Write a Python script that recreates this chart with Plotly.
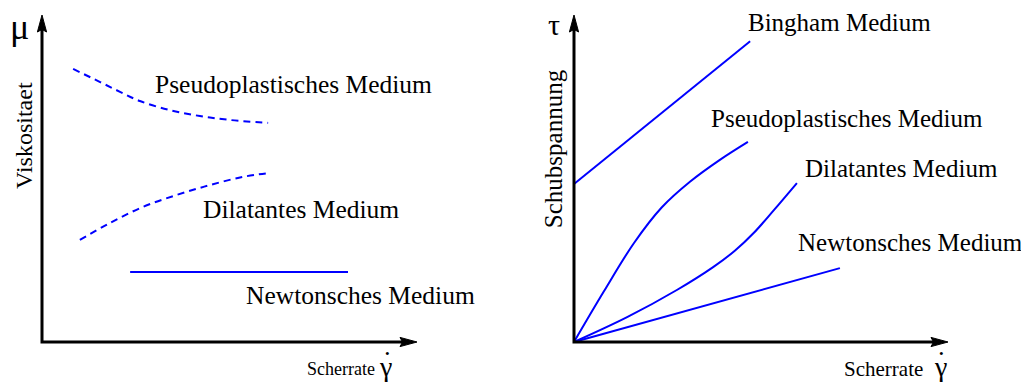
import plotly.graph_objects as go

# ---------------- data (schematic units, 0..10 on each axis) ----------------
# Left panel: viscosity vs shear rate
left_pseudo_x = [0.83, 1.55, 2.08, 2.61, 3.41, 4.21, 5.01, 6.03]
left_pseudo_y = [8.35, 7.95, 7.65, 7.37, 7.09, 6.91, 6.79, 6.70]
left_dilat_x = [1.01, 1.81, 2.69, 3.60, 4.48, 5.36, 6.08]
left_dilat_y = [3.12, 3.64, 4.13, 4.50, 4.80, 5.05, 5.17]
left_newton_x = [2.35, 8.16]
left_newton_y = [2.14, 2.14]

# Right panel: shear stress vs shear rate
right_bingham_x = [0.0, 4.71]
right_bingham_y = [4.83, 9.20]
right_pseudo_x = [0.0, 0.8, 1.6, 2.35, 3.1, 3.9, 4.65]
right_pseudo_y = [0.0, 1.55, 3.02, 4.12, 4.90, 5.57, 6.12]
right_dilat_x = [0.0, 1.42, 2.75, 3.72, 4.30, 4.81, 5.35, 5.96]
right_dilat_y = [0.0, 0.76, 1.59, 2.29, 2.79, 3.34, 4.04, 4.86]
right_newton_x = [0.0, 7.11]
right_newton_y = [0.0, 2.26]

left_labels = ["Pseudoplastisches Medium", "Dilatantes Medium", "Newtonsches Medium"]
left_label_x = [2.96, 4.24, 5.39]
left_label_y = [7.89, 4.04, 1.41]
right_labels = ["Bingham Medium", "Pseudoplastisches Medium", "Dilatantes Medium", "Newtonsches Medium"]
right_label_x = [4.60, 3.61, 6.12, 5.94]
right_label_y = [9.76, 6.85, 5.32, 3.03]

# ---------------- layout helpers ----------------
W, H = 1029, 382
OFF = 8  # page body margin offset
FONT = "Liberation Serif, Times New Roman, serif"
BLUE = "#0000ff"

# pixel mapping of the two coordinate systems (origin px, px per unit)
L_ORIG = (42 - OFF, 342 - OFF); L_SX, L_SY = 37.5, 32.7
R_ORIG = (574 - OFF, 342 - OFF); R_SX, R_SY = 37.4, 32.7


def xr(orig, sx, p0, p1):
    return [(p0 - orig[0]) / sx, (p1 - orig[0]) / sx]


def yr(orig, sy):
    return [(orig[1] - H) / sy, orig[1] / sy]


fig = go.Figure()

line_solid = dict(color=BLUE, width=2)
line_dash = dict(color=BLUE, width=2, dash="7px,5px")

fig.add_trace(go.Scatter(x=left_pseudo_x, y=left_pseudo_y, mode="lines", line_shape="spline",
                         line=line_dash, xaxis="x", yaxis="y"))
fig.add_trace(go.Scatter(x=left_dilat_x, y=left_dilat_y, mode="lines", line_shape="spline",
                         line=line_dash, xaxis="x", yaxis="y"))
fig.add_trace(go.Scatter(x=left_newton_x, y=left_newton_y, mode="lines",
                         line=line_solid, xaxis="x", yaxis="y"))

fig.add_trace(go.Scatter(x=right_bingham_x, y=right_bingham_y, mode="lines",
                         line=line_solid, xaxis="x2", yaxis="y2"))
fig.add_trace(go.Scatter(x=right_pseudo_x, y=right_pseudo_y, mode="lines",
                         line=dict(color=BLUE, width=2, shape="spline", smoothing=1.0),
                         xaxis="x2", yaxis="y2"))
fig.add_trace(go.Scatter(x=right_dilat_x, y=right_dilat_y, mode="lines",
                         line=dict(color=BLUE, width=2, shape="spline", smoothing=1.0),
                         xaxis="x2", yaxis="y2"))
fig.add_trace(go.Scatter(x=right_newton_x, y=right_newton_y, mode="lines",
                         line=line_solid, xaxis="x2", yaxis="y2"))

shapes = []
annotations = []


def axes_arrows(xref, yref, sx, sy):
    # axis lines (L-shape) ending at arrow bases, then arrowheads at (0,10) and (10,0)
    alen = 17.0
    ahw = 4.6
    ly = alen / sy
    lx = alen / sx
    shapes.append(dict(type="path", xref=xref, yref=yref,
                       path=f"M0,{10 - ly * 0.7} L0,0 L{10 - lx * 0.7},0",
                       line=dict(color="black", width=3)))
    hw_x = ahw / sx
    hw_y = ahw / sy
    notch_y = 10 - ly * 0.85
    notch_x = 10 - lx * 0.85
    shapes.append(dict(type="path", xref=xref, yref=yref,
                       path=f"M0,10 L{-hw_x},{10 - ly} L0,{notch_y} L{hw_x},{10 - ly} Z",
                       fillcolor="black", line=dict(color="black", width=1)))
    shapes.append(dict(type="path", xref=xref, yref=yref,
                       path=f"M10,0 L{10 - lx},{hw_y} L{notch_x},0 L{10 - lx},{-hw_y} Z",
                       fillcolor="black", line=dict(color="black", width=1)))


axes_arrows("x", "y", L_SX, L_SY)
axes_arrows("x2", "y2", R_SX, R_SY)


def label(text, x, y, xref, yref, size=26, xanchor="left", angle=0, yanchor="middle"):
    annotations.append(dict(text=text, x=x, y=y, xref=xref, yref=yref, showarrow=False,
                            xanchor=xanchor, yanchor=yanchor, textangle=angle,
                            font=dict(family=FONT, size=size, color="black")))


for t, x, y in zip(left_labels, left_label_x, left_label_y):
    label(t, x, y, "x", "y", size=25.5)
for t, x, y in zip(right_labels, right_label_x, right_label_y):
    label(t, x, y, "x2", "y2", size=25)

# axis titles
label("Viskositaet", -0.48, 6.30, "x", "y", size=24, xanchor="center", angle=-90)
label("Schubspannung", -0.56, 5.90, "x2", "y2", size=25, xanchor="center", angle=-90)
label("\u03bc", -0.59, 9.62, "x", "y", size=36, xanchor="center")
label("\u03c4", -0.53, 9.72, "x2", "y2", size=30, xanchor="center")

label("Scherrate", 8.93, -0.83, "x", "y", size=18, xanchor="right")
label("\u03b3", 9.17, -0.74, "x", "y", size=28, xanchor="center")
label("\u00b7", 9.20, -0.36, "x", "y", size=26, xanchor="center")
label("Scherrate", 9.39, -0.83, "x2", "y2", size=21, xanchor="right")
label("\u03b3", 9.79, -0.74, "x2", "y2", size=28, xanchor="center")
label("\u00b7", 9.82, -0.36, "x2", "y2", size=26, xanchor="center")

ax_common = dict(visible=False, showgrid=False, zeroline=False, fixedrange=True)
fig.update_layout(
    width=W, height=H,
    margin=dict(l=0, r=0, t=0, b=0),
    paper_bgcolor="white", plot_bgcolor="white",
    showlegend=False,
    xaxis=dict(domain=[0, 0.5], range=xr(L_ORIG, L_SX, 0, W / 2), **ax_common),
    yaxis=dict(domain=[0, 1], range=yr(L_ORIG, L_SY), **ax_common),
    xaxis2=dict(domain=[0.5, 1], range=xr(R_ORIG, R_SX, W / 2, W), **ax_common),
    yaxis2=dict(domain=[0, 1], range=yr(R_ORIG, R_SY), anchor="x2", **ax_common),
    shapes=shapes,
    annotations=annotations,
)

fig.write_html("out.html")
